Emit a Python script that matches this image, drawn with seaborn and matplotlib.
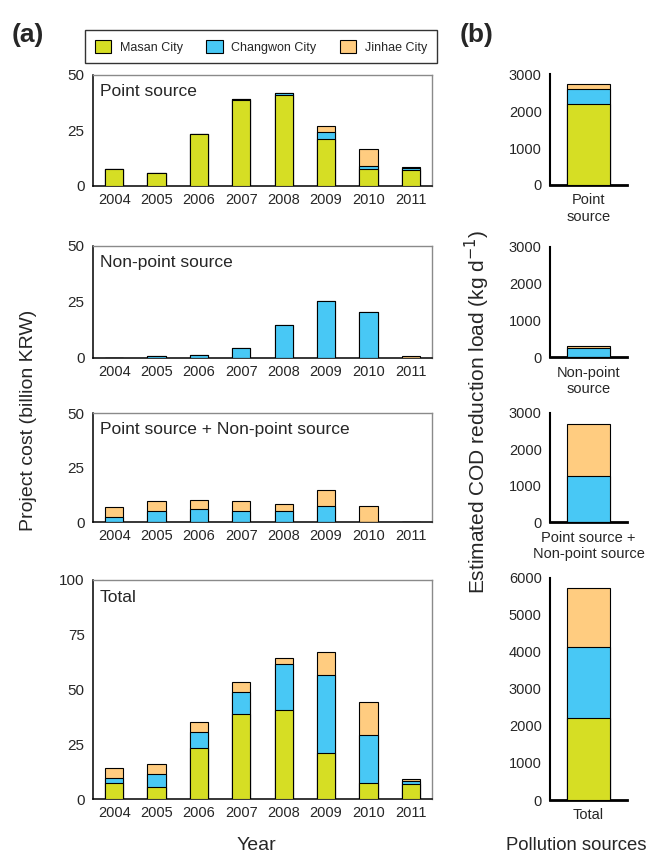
import numpy as np
import pandas as pd
import matplotlib
matplotlib.use("Agg")
import matplotlib.pyplot as plt
from matplotlib.patches import Patch
import seaborn as sns

sns.set_style("white")
plt.rcParams["font.family"] = ["Liberation Sans", "DejaVu Sans"]

years = ["2004", "2005", "2006", "2007", "2008", "2009", "2010", "2011"]
cities = ["Masan City", "Changwon City", "Jinhae City"]
colors = ["#D6DE24", "#48C8F5", "#FFCC80"]

# Project cost (billion KRW) by city and year
ps_masan = [7.5, 5.7, 23.3, 38.7, 40.8, 21.3, 7.6, 7.0]
ps_changwon = [0.0, 0.0, 0.0, 0.5, 0.9, 3.0, 1.3, 1.2]
ps_jinhae = [0.0, 0.0, 0.0, 0.0, 0.0, 2.6, 7.6, 0.3]

nps_masan = [0.0, 0.0, 0.0, 0.0, 0.0, 0.0, 0.0, 0.0]
nps_changwon = [0.0, 0.7, 1.5, 4.45, 14.5, 25.2, 20.3, 0.0]
nps_jinhae = [0.0, 0.0, 0.0, 0.0, 0.0, 0.0, 0.0, 0.7]

both_masan = [0.0, 0.0, 0.0, 0.0, 0.0, 0.0, 0.0, 0.0]
both_changwon = [2.4, 5.3, 6.0, 5.3, 5.3, 7.3, 0.0, 0.0]
both_jinhae = [4.5, 4.6, 4.4, 4.5, 3.0, 7.5, 7.3, 0.0]

# Estimated COD reduction load (kg/d) by source type
source_labels = ["Point\nsource", "Non-point\nsource", "Point source +\nNon-point source"]
cod_masan = [2200, 0, 0]
cod_changwon = [410, 240, 1280]
cod_jinhae = [120, 60, 1400]

panels = [
    ("Point source", [ps_masan, ps_changwon, ps_jinhae], 50, [0, 25, 50]),
    ("Non-point source", [nps_masan, nps_changwon, nps_jinhae], 50, [0, 25, 50]),
    ("Point source + Non-point source", [both_masan, both_changwon, both_jinhae], 50, [0, 25, 50]),
]
total_series = [np.sum([p[1][i] for p in panels], axis=0) for i in range(3)]
panels.append(("Total", total_series, 100, [0, 25, 50, 75, 100]))

W, H = 652, 852
fig = plt.figure(figsize=(W / 100, H / 100), dpi=100)


def fax(left, top, right, bottom):
    return fig.add_axes([left / W, 1 - bottom / H, (right - left) / W, (bottom - top) / H])


def stacked(ax, labels, series, width):
    cum = np.cumsum(np.array(series, dtype=float), axis=0)
    # Tallest cumulative layer first so lower layers sit on top of it
    for i in range(len(series) - 1, -1, -1):
        df = pd.DataFrame({"cat": labels, "val": cum[i]})
        sns.barplot(data=df, x="cat", y="val", order=labels, color=colors[i],
                    saturation=1, width=width, edgecolor="black", linewidth=0.8,
                    ax=ax, zorder=3)


rows_a = [(75, 186), (245.7, 358), (413.3, 522.3), (579.7, 799.3)]
for (title, series, ymax, yticks), (top, bottom) in zip(panels, rows_a):
    ax = fax(93, top, 432, bottom)
    stacked(ax, years, series, 0.43)
    ax.set_xlim(-0.5, 7.5)
    ax.set_ylim(0, ymax)
    ax.set_yticks(yticks)
    ax.set_xlabel("")
    ax.set_ylabel("")
    ax.set_xticks(range(8))
    ax.set_xticklabels(years, fontsize=10.5)
    ax.set_xticks(np.arange(-0.5, 8, 1), minor=True)
    ax.tick_params(axis="x", which="major", length=0, pad=5)
    ax.tick_params(axis="x", which="minor", length=4, width=0.8, direction="out", color="black")
    ax.tick_params(axis="y", length=4, width=0.8, direction="out", color="black", labelsize=11, pad=2)
    for s in ["left", "bottom"]:
        ax.spines[s].set_color("black")
        ax.spines[s].set_linewidth(1.1)
    for s in ["top", "right"]:
        ax.spines[s].set_color("#8a8a8a")
        ax.spines[s].set_linewidth(1.0)
    ypos = 0.92 if title == "Total" else 0.85
    ax.text(0.02, ypos, title, transform=ax.transAxes, ha="left", va="center", fontsize=12.5)

rows_b = [(74.3, 185), (246.7, 357.3), (412.7, 522.3), (577.7, 800)]
b_labels = source_labels + ["Total"]
for k, (top, bottom) in enumerate(rows_b):
    ax = fax(550, top, 627, bottom)
    if k < 3:
        vals = [[cod_masan[k]], [cod_changwon[k]], [cod_jinhae[k]]]
        ymax, yticks = 3000, [0, 1000, 2000, 3000]
    else:
        vals = [[sum(cod_masan)], [sum(cod_changwon)], [sum(cod_jinhae)]]
        ymax, yticks = 6000, list(range(0, 6001, 1000))
    stacked(ax, [b_labels[k]], vals, 0.55)
    ax.set_xlim(-0.5, 0.5)
    ax.set_ylim(0, ymax)
    ax.set_yticks(yticks)
    ax.set_xlabel("")
    ax.set_ylabel("")
    ax.tick_params(axis="x", length=0, labelsize=10.5, pad=6)
    ax.tick_params(axis="y", length=4, width=1.0, direction="out", color="black", labelsize=10.5, pad=2)
    ax.spines["top"].set_visible(False)
    ax.spines["right"].set_visible(False)
    ax.spines["left"].set_color("black")
    ax.spines["left"].set_linewidth(1.5)
    ax.spines["bottom"].set_color("black")
    ax.spines["bottom"].set_linewidth(2.0)

handles = [Patch(facecolor=c, edgecolor="black", linewidth=0.8, label=l) for c, l in zip(colors, cities)]
leg = fig.legend(handles=handles, loc="center", bbox_to_anchor=(261 / W, 1 - 46.5 / H), ncol=3,
                 fontsize=9, frameon=True, fancybox=False, edgecolor="black",
                 handlelength=1.3, handleheight=1.3, columnspacing=1.9, handletextpad=0.7,
                 borderpad=0.75, borderaxespad=0)
leg.get_frame().set_linewidth(1.0)

fig.text(28 / W, 1 - 35 / H, "(a)", fontsize=19, fontweight="bold", ha="center", va="center")
fig.text(477 / W, 1 - 35 / H, "(b)", fontsize=19, fontweight="bold", ha="center", va="center")
fig.text(29 / W, 1 - 420 / H, "Project cost (billion KRW)", rotation=90, fontsize=14,
         ha="center", va="center")
fig.text(477 / W, 1 - 412 / H, "Estimated COD reduction load (kg d$^{-1}$)", rotation=90,
         fontsize=15, ha="center", va="center")
fig.text(256 / W, 1 - 845 / H, "Year", fontsize=14, ha="center", va="center")
fig.text(576 / W, 1 - 845 / H, "Pollution sources", fontsize=13.3, ha="center", va="center")

fig.savefig("out.png", dpi=100)
